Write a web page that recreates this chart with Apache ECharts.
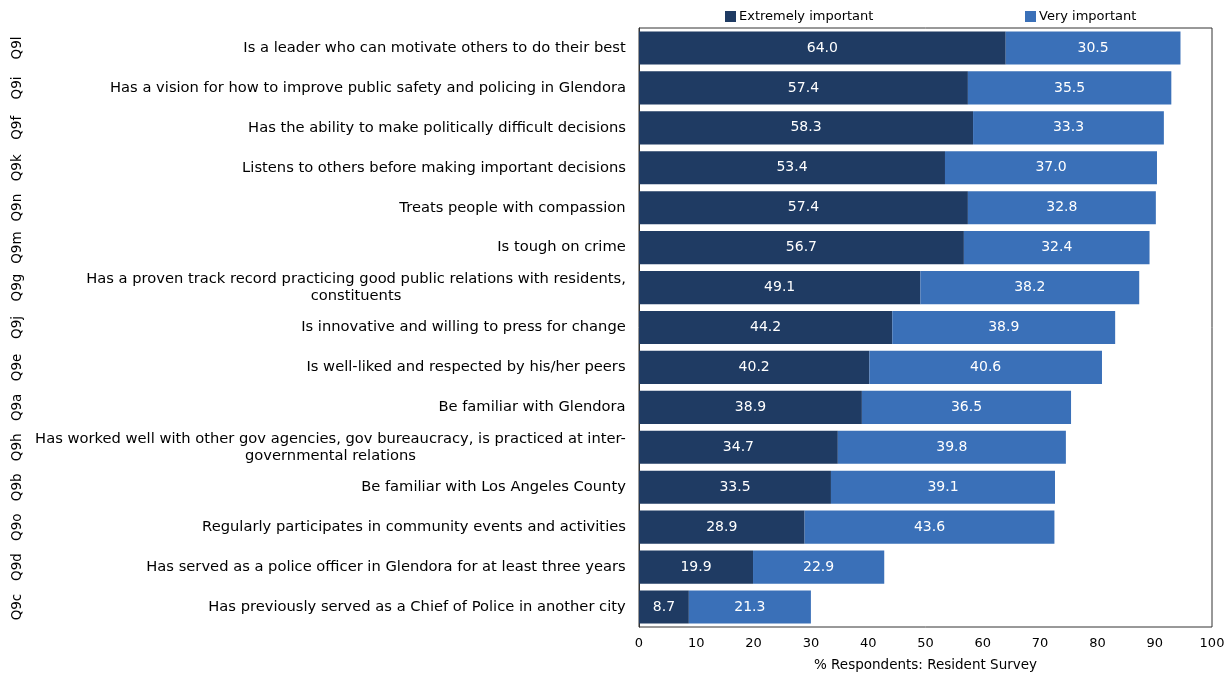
<!DOCTYPE html>
<html>
<head>
<meta charset="utf-8">
<script src="https://cdn.jsdelivr.net/npm/echarts@6/dist/echarts.min.js"></script>
<style>
html,body{margin:0;padding:0;background:#fff;}
#chart{width:1229px;height:677px;}
</style>
</head>
<body>
<div id="chart"></div>
<script>
// Attributes, top to bottom
const categories = [
  'Is a leader who can motivate others to do their best',
  'Has a vision for how to improve public safety and policing in Glendora',
  'Has the ability to make politically difficult decisions',
  'Listens to others before making important decisions',
  'Treats people with compassion',
  'Is tough on crime',
  'Has a proven track record practicing good public relations with residents,\nconstituents',
  'Is innovative and willing to press for change',
  'Is well-liked and respected by his/her peers',
  'Be familiar with Glendora',
  'Has worked well with other gov agencies, gov bureaucracy, is practiced at inter-\ngovernmental relations',
  'Be familiar with Los Angeles County',
  'Regularly participates in community events and activities',
  'Has served as a police officer in Glendora for at least three years',
  'Has previously served as a Chief of Police in another city'
];
const questionCodes = ['Q9l','Q9i','Q9f','Q9k','Q9n','Q9m','Q9g','Q9j','Q9e','Q9a','Q9h','Q9b','Q9o','Q9d','Q9c'];
const extremelyImportant = [64.0,57.4,58.3,53.4,57.4,56.7,49.1,44.2,40.2,38.9,34.7,33.5,28.9,19.9,8.7];
const veryImportant = [30.5,35.5,33.3,37.0,32.8,32.4,38.2,38.9,40.6,36.5,39.8,39.1,43.6,22.9,21.3];
const xTicks = { min: 0, max: 100, interval: 10 };

const FONT = 'DejaVu Sans';
const CAT_SIZE = 14.7;

// Multi-line category labels: lines are centred on each other, block right-aligned to the axis
const measureCtx = document.createElement('canvas').getContext('2d');
measureCtx.font = CAT_SIZE + 'px "' + FONT + '"';
function blockWidth(text) {
  return Math.ceil(Math.max(...text.split('\n').map(l => measureCtx.measureText(l).width))) + 2;
}
const catRich = {};
categories.forEach((c, i) => {
  catRich['c' + i] = { width: blockWidth(c), align: 'center', fontFamily: FONT, fontSize: CAT_SIZE, color: '#000', lineHeight: 17 };
});

const chart = echarts.init(document.getElementById('chart'));
const valueLabel = {
  show: true, position: 'inside', color: '#fff', fontFamily: FONT, fontSize: 14,
  formatter: p => p.value.toFixed(1)
};
const legendText = { fontFamily: FONT, fontSize: 13, color: '#000', padding: [0,0,0,-2] };
chart.setOption({
  animation: false,
  textStyle: { fontFamily: FONT },
  legend: [
    { data: ['Extremely important'], left: 720, top: 5, itemWidth: 11, itemHeight: 11, itemGap: 4, icon: 'rect', textStyle: legendText },
    { data: ['Very important'], left: 1020, top: 5, itemWidth: 11, itemHeight: 11, itemGap: 4, icon: 'rect', textStyle: legendText }
  ],
  grid: { left: 639, right: 17, top: 28, bottom: 50, show: true, borderColor: '#333', borderWidth: 1 },
  xAxis: {
    type: 'value', min: xTicks.min, max: xTicks.max, interval: xTicks.interval,
    name: '% Respondents: Resident Survey', nameLocation: 'middle', nameGap: 31,
    nameTextStyle: { fontFamily: FONT, fontSize: 13.5, color: '#000' },
    axisLine: { show: false }, axisTick: { show: false }, splitLine: { show: false },
    axisLabel: { fontFamily: FONT, fontSize: 13, color: '#000', margin: 10 }
  },
  yAxis: [
    {
      type: 'category', data: categories, inverse: true,
      axisLine: { show: true, lineStyle: { color: '#333' } }, axisTick: { show: false },
      axisLabel: {
        interval: 0, margin: 12, align: 'right',
        formatter: (v, i) => v.split('\n').map(l => '{c' + i + '|' + l + '}').join('\n'),
        rich: catRich
      }
    },
    {
      type: 'category', data: questionCodes, inverse: true, position: 'left', offset: 622,
      axisLine: { show: false }, axisTick: { show: false },
      axisLabel: { interval: 0, fontFamily: FONT, fontSize: 13.5, color: '#000', rotate: 90, margin: 0, align: 'center', verticalAlign: 'middle' }
    }
  ],
  series: [
    { name: 'Extremely important', type: 'bar', stack: 'total', data: extremelyImportant,
      barCategoryGap: '17%', itemStyle: { color: '#1f3b63' }, label: valueLabel },
    { name: 'Very important', type: 'bar', stack: 'total', data: veryImportant,
      barCategoryGap: '17%', itemStyle: { color: '#3a70b8' }, label: valueLabel }
  ]
});
</script>
</body>
</html>
